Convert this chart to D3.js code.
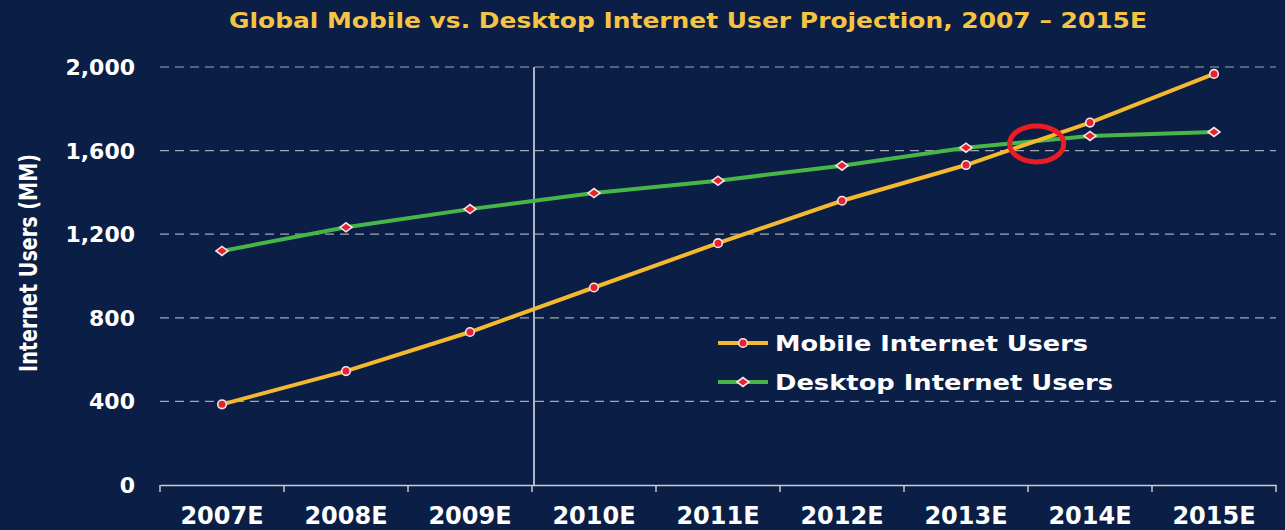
<!DOCTYPE html>
<html lang="en">
<head>
  <meta charset="UTF-8">
  <script src="https://cdn.jsdelivr.net/npm/d3@7"></script>
  <title>Global Mobile vs. Desktop Internet User Projection</title>
  <style>
    html, body {
      margin: 0;
      padding: 0;
      background: #0b1e46;
    }
    svg {
      display: block;
    }
    text {
      font-family: 'DejaVu Sans', sans-serif;
      font-weight: bold;
      fill: #ffffff;
    }
  </style>
</head>
<body>
  <svg id="chart" width="1285" height="530"></svg>
  <script>
    const years = ["2007E", "2008E", "2009E", "2010E", "2011E", "2012E", "2013E", "2014E", "2015E"];
    const mobile = [386, 545, 732, 945, 1157, 1360, 1531, 1734, 1967];
    const desktop = [1120, 1233, 1320, 1397, 1456, 1528, 1614, 1670, 1689];
    const yTicks = [0, 400, 800, 1200, 1600, 2000];
    // crossover annotation: fraction into the 2013E band, and value
    const crossAt = { year: "2013E", frac: 1.07, value: 1632 };
    const splitYear = "2010E";

    const svg = d3.select("#chart");

    const x = d3.scaleBand().domain(years).range([160, 1276]).padding(0);
    const y = d3.scaleLinear().domain([0, 2000]).range([485, 67]);
    const cx = d => x(d) + x.bandwidth() / 2;

    // title
    svg.append("text")
      .attr("x", 688).attr("y", 28)
      .attr("text-anchor", "middle")
      .attr("font-family", "'Liberation Sans', Arial, sans-serif")
      .attr("font-size", 22)
      .attr("textLength", 918).attr("lengthAdjust", "spacingAndGlyphs")
      .style("fill", "#f6c444")
      .text("Global Mobile vs. Desktop Internet User Projection, 2007 \u2013 2015E");

    // y axis title
    svg.append("text")
      .attr("transform", "translate(37,263) rotate(-90)")
      .attr("text-anchor", "middle")
      .attr("font-family", "'Liberation Sans', Arial, sans-serif")
      .attr("font-size", 25)
      .attr("textLength", 218).attr("lengthAdjust", "spacingAndGlyphs")
      .text("Internet Users (MM)");

    // gridlines
    svg.append("g").selectAll("line")
      .data(yTicks.filter(d => d > 0)).enter().append("line")
      .attr("x1", 160).attr("x2", 1276)
      .attr("y1", d => y(d)).attr("y2", d => y(d))
      .attr("stroke", "#a3a7b0").attr("stroke-width", 1.2)
      .attr("stroke-dasharray", "9,6");

    // y tick labels
    svg.append("g").selectAll("text")
      .data(yTicks).enter().append("text")
      .attr("x", 135).attr("y", d => y(d))
      .attr("dy", "0.36em")
      .attr("text-anchor", "end")
      .attr("font-size", 22)
      .text(d => d3.format(",")(d));

    // x axis
    const xAxis = d3.axisBottom(x).tickSize(0).tickFormat("");
    const gx = svg.append("g").attr("transform", "translate(0,485)").call(xAxis);
    gx.select(".domain").attr("stroke", "#c9ccd4").attr("stroke-width", 1.5);
    const bounds = years.map(d => x(d)).concat([x.range()[1]]);
    gx.selectAll("line.bound").data(bounds).enter().append("line")
      .attr("class", "bound")
      .attr("x1", d => d).attr("x2", d => d)
      .attr("y1", 0).attr("y2", 7)
      .attr("stroke", "#c9ccd4").attr("stroke-width", 1.5);
    svg.append("g").selectAll("text")
      .data(years).enter().append("text")
      .attr("x", d => cx(d)).attr("y", 524)
      .attr("text-anchor", "middle")
      .attr("font-size", 24)
      .text(d => d);

    // vertical divider
    svg.append("line")
      .attr("x1", x(splitYear) + 2).attr("x2", x(splitYear) + 2)
      .attr("y1", y(2000)).attr("y2", y(0))
      .attr("stroke", "#d4dbea").attr("stroke-width", 1.6);

    const line = d3.line().x(d => cx(d[0])).y(d => y(d[1]));
    const mobilePts = years.map((d, i) => [d, mobile[i]]);
    const desktopPts = years.map((d, i) => [d, desktop[i]]);

    svg.append("path").datum(desktopPts)
      .attr("d", line).attr("fill", "none")
      .attr("stroke", "#47b649").attr("stroke-width", 4);
    svg.append("path").datum(mobilePts)
      .attr("d", line).attr("fill", "none")
      .attr("stroke", "#f4b92f").attr("stroke-width", 4);

    const diamond = "M-6,0L0,-4.5L6,0L0,4.5Z";

    svg.append("g").selectAll("path")
      .data(desktopPts).enter().append("path")
      .attr("transform", d => `translate(${cx(d[0])},${y(d[1])})`)
      .attr("d", diamond)
      .attr("fill", "#e8212b").attr("stroke", "#f3e6ea").attr("stroke-width", 1.6);

    svg.append("g").selectAll("circle")
      .data(mobilePts).enter().append("circle")
      .attr("cx", d => cx(d[0])).attr("cy", d => y(d[1]))
      .attr("r", 4.3)
      .attr("fill", "#e8212b").attr("stroke", "#f3e6ea").attr("stroke-width", 1.6);

    // crossover highlight
    svg.append("ellipse")
      .attr("cx", x(crossAt.year) + x.bandwidth() * crossAt.frac)
      .attr("cy", y(crossAt.value))
      .attr("rx", 27).attr("ry", 18)
      .attr("fill", "none").attr("stroke", "#ec1c24").attr("stroke-width", 5);

    // legend
    const legend = [
      { name: "Mobile Internet Users", color: "#f4b92f", shape: "circle", y: 343 },
      { name: "Desktop Internet Users", color: "#47b649", shape: "diamond", y: 382 }
    ];
    const lg = svg.append("g").selectAll("g").data(legend).enter().append("g")
      .attr("transform", d => `translate(718,${d.y})`);
    lg.append("line").attr("x1", 0).attr("x2", 50)
      .attr("stroke", d => d.color).attr("stroke-width", 4);
    lg.filter(d => d.shape === "circle").append("circle")
      .attr("cx", 25).attr("r", 4.3)
      .attr("fill", "#e8212b").attr("stroke", "#f3e6ea").attr("stroke-width", 1.6);
    lg.filter(d => d.shape === "diamond").append("path")
      .attr("transform", "translate(25,0)").attr("d", diamond)
      .attr("fill", "#e8212b").attr("stroke", "#f3e6ea").attr("stroke-width", 1.6);
    lg.append("text")
      .attr("x", 57).attr("y", 8)
      .attr("font-size", 21)
      .attr("textLength", (d, i) => i === 0 ? 313 : 338)
      .attr("lengthAdjust", "spacingAndGlyphs")
      .text(d => d.name);
  </script>
</body>
</html>
